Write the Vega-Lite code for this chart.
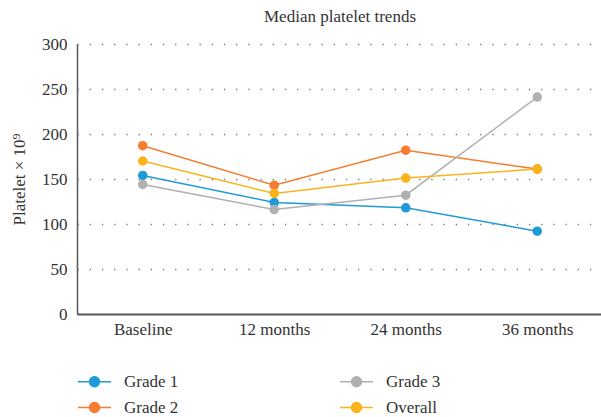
{
  "$schema": "https://vega.github.io/schema/vega-lite/v6.json",
  "autosize": {"type": "none"},
  "padding": {"left": 77, "top": 44, "right": 0, "bottom": 103},
  "width": 526,
  "height": 270,
  "background": "white",
  "title": {
    "text": "Median platelet trends",
    "font": "Liberation Serif",
    "fontSize": 17,
    "fontWeight": "normal",
    "color": "#333333",
    "anchor": "middle",
    "offset": 9
  },
  "config": {
    "view": {"stroke": null},
    "font": "Liberation Serif",
    "axis": {"labelFont": "Liberation Serif", "titleFont": "Liberation Serif"},
    "legend": {"labelFont": "Liberation Serif"}
  },
  "data": {
    "values": [
      {"time": "Baseline", "series": "Grade 1", "value": 154},
      {"time": "12 months", "series": "Grade 1", "value": 124},
      {"time": "24 months", "series": "Grade 1", "value": 118},
      {"time": "36 months", "series": "Grade 1", "value": 92},
      {"time": "Baseline", "series": "Grade 2", "value": 187},
      {"time": "12 months", "series": "Grade 2", "value": 143},
      {"time": "24 months", "series": "Grade 2", "value": 182},
      {"time": "36 months", "series": "Grade 2", "value": 161},
      {"time": "Baseline", "series": "Grade 3", "value": 144},
      {"time": "12 months", "series": "Grade 3", "value": 116},
      {"time": "24 months", "series": "Grade 3", "value": 132},
      {"time": "36 months", "series": "Grade 3", "value": 241},
      {"time": "Baseline", "series": "Overall", "value": 170},
      {"time": "12 months", "series": "Overall", "value": 134},
      {"time": "24 months", "series": "Overall", "value": 151},
      {"time": "36 months", "series": "Overall", "value": 161}
    ]
  },
  "encoding": {
    "x": {
      "field": "time",
      "type": "ordinal",
      "sort": ["Baseline", "12 months", "24 months", "36 months"],
      "scale": {"type": "point", "padding": 0.5},
      "axis": {
        "title": null,
        "labelAngle": 0,
        "labelFont": "Liberation Serif",
        "labelFontSize": 17,
        "labelColor": "#333333",
        "labelPadding": 7,
        "ticks": false,
        "domainColor": "#595959",
        "domainWidth": 2,
        "grid": false
      }
    },
    "y": {
      "field": "value",
      "type": "quantitative",
      "scale": {"domain": [0, 300], "nice": false},
      "axis": {
        "title": "Platelet × 10⁹",
        "titleFont": "Liberation Serif",
        "titleFontSize": 17,
        "titleFontWeight": "normal",
        "titleColor": "#333333",
        "titlePadding": 13,
        "values": [0, 50, 100, 150, 200, 250, 300],
        "labelFont": "Liberation Serif",
        "labelFontSize": 17,
        "labelColor": "#333333",
        "labelPadding": 10,
        "ticks": false,
        "domainColor": "#595959",
        "domainWidth": 1.5,
        "grid": true,
        "gridColor": "#777777",
        "gridWidth": 1.3,
        "gridDash": [1.3, 10.9]
      }
    },
    "color": {
      "field": "series",
      "type": "nominal",
      "scale": {
        "domain": ["Grade 1", "Grade 2", "Grade 3", "Overall"],
        "range": ["#1f9ad6", "#f47d30", "#b0b0b2", "#fbb31b"]
      },
      "legend": {
        "title": null,
        "orient": "none",
        "legendX": 0,
        "legendY": 320,
        "direction": "horizontal",
        "columns": 2,
        "values": ["Grade 1", "Grade 3", "Grade 2", "Overall"],
        "columnPadding": 158,
        "rowPadding": 0,
        "symbolType": "M-1,0L1,0M-0.3,0A0.3,0.3 0 1 0 0.3,0A0.3,0.3 0 1 0 -0.3,0Z",
        "symbolSize": 1089,
        "symbolStrokeWidth": 1.5,
        "labelFont": "Liberation Serif",
        "labelFontSize": 17,
        "labelColor": "#333333",
        "labelOffset": 12,
        "encode": {
          "symbols": {
            "update": {
              "fill": {"scale": "color", "field": "value"},
              "stroke": {"scale": "color", "field": "value"},
              "opacity": {"value": 1}
            }
          }
        }
      }
    }
  },
  "layer": [
    {
      "mark": {"type": "line", "strokeWidth": 1.5}
    },
    {
      "mark": {"type": "point", "filled": true, "size": 90, "opacity": 1}
    }
  ]
}
